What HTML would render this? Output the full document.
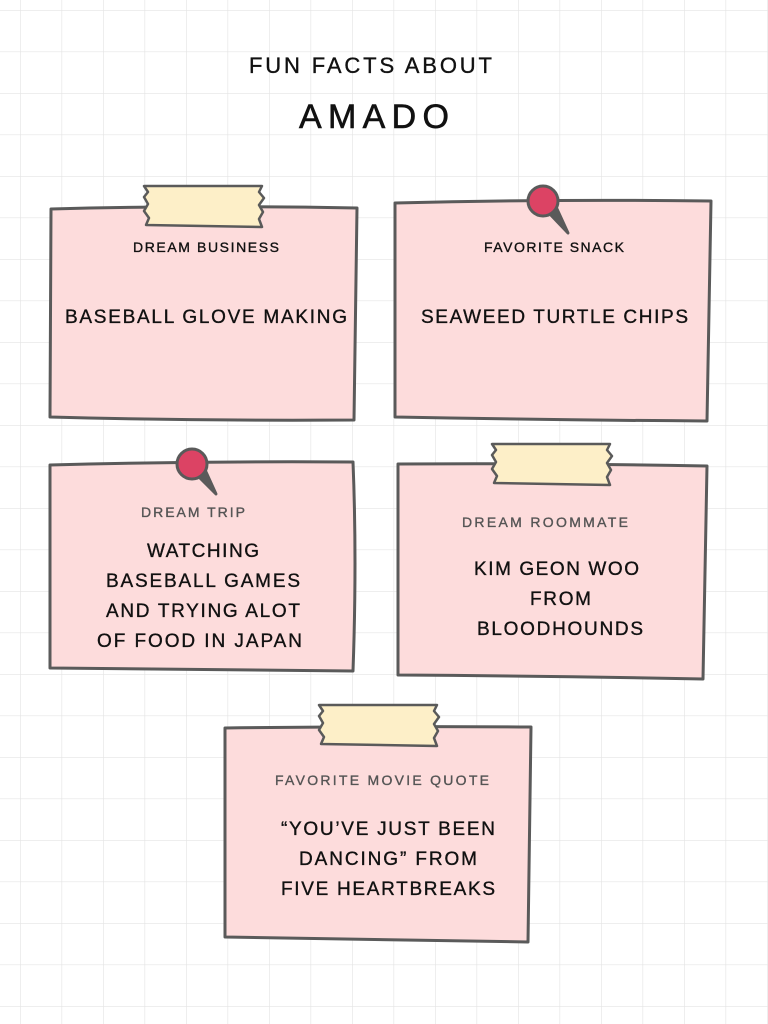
<!DOCTYPE html>
<html><head><meta charset="utf-8"><style>
html,body{margin:0;padding:0;background:#fff}
svg{display:block}
text{font-family:"Liberation Sans",sans-serif;fill:#111;stroke:#111;stroke-width:0.35}
.l{font-size:14px}
.b{font-size:19px}
.g{fill:#555;stroke:#555}
</style></head><body>
<svg width="768" height="1024" viewBox="0 0 768 1024" xmlns="http://www.w3.org/2000/svg">
<defs>
<pattern id="grid" x="20" y="10" width="41.5" height="41.5" patternUnits="userSpaceOnUse">
<path d="M0 0H41.5M0 0V41.5" stroke="#e4e4e4" stroke-width="1.3" fill="none"/>
</pattern>
</defs>
<rect width="768" height="1024" fill="url(#grid)"/>
<text x="249" y="73" textLength="243" style="font-size:22px">FUN FACTS ABOUT</text>
<text x="299" y="128" textLength="150" style="font-size:34px;stroke-width:0.6">AMADO</text>

<g fill="#fddcdc" stroke="#5a5a5a" stroke-width="3" stroke-linejoin="round">
<path d="M51 209 Q200 205 357 208 L354 420 Q200 421 50 417 Z"/>
<path d="M395 203 Q550 199 711 201 L707 421 Q550 420 395 417 Z"/>
<path d="M50 465 Q200 461 353 462 Q357 560 353 671 Q200 670 50 668 Z"/>
<path d="M398 464 Q550 463 707 466 L703 679 Q550 676 398 675 Z"/>
<path d="M225 728 Q380 726 531 727 L528 942 Q380 940 225 937 Z"/>
</g>
<g fill="#fdefc8" stroke="#5a5a5a" stroke-width="2.5" stroke-linejoin="round">
<path d="M144 186 L262 186 L259 192 L264 198 L259 205 L263 212 L259 219 L262 227 L146 225 L149 218 L144 211 L148 204 L144 197 L148 192 Z"/>
<path d="M492 444 L610 444 L607 450 L612 456 L607 463 L611 470 L607 477 L610 485 L494 483 L497 476 L492 469 L496 462 L492 455 L496 450 Z"/>
<path d="M319 705 L437 705 L434 711 L439 717 L434 724 L438 731 L434 738 L437 746 L321 744 L324 737 L319 730 L323 723 L319 716 L323 711 Z"/>
</g>
<g stroke="#5a5a5a" stroke-width="3" stroke-linejoin="round">
<path d="M548 212 L568 233 L557 209 Z" fill="#5a5a5a"/>
<circle cx="543" cy="201" r="15" fill="#dc4364"/>
<path d="M197 475 L216 494 L206 472 Z" fill="#5a5a5a"/>
<circle cx="192" cy="464" r="15" fill="#dc4364"/>
</g>

<text class="l" x="133" y="252" textLength="146">DREAM BUSINESS</text>
<text class="b" x="65" y="323" textLength="282">BASEBALL GLOVE MAKING</text>
<text class="l" x="484" y="252" textLength="140">FAVORITE SNACK</text>
<text class="b" x="421" y="323" textLength="267">SEAWEED TURTLE CHIPS</text>

<text class="l g" x="141" y="517" textLength="104">DREAM TRIP</text>
<text class="b" x="147" y="557" textLength="112">WATCHING</text>
<text class="b" x="106" y="587" textLength="194">BASEBALL GAMES</text>
<text class="b" x="106" y="617" textLength="194">AND TRYING ALOT</text>
<text class="b" x="97" y="647" textLength="205">OF FOOD IN JAPAN</text>

<text class="l g" x="462" y="527" textLength="166">DREAM ROOMMATE</text>
<text class="b" x="474" y="575" textLength="165">KIM GEON WOO</text>
<text class="b" x="530" y="605" textLength="61">FROM</text>
<text class="b" x="477" y="635" textLength="166">BLOODHOUNDS</text>

<text class="l g" x="275" y="785" textLength="214">FAVORITE MOVIE QUOTE</text>
<text class="b" x="281" y="835" textLength="214">“YOU’VE JUST BEEN</text>
<text class="b" x="299" y="865" textLength="178">DANCING” FROM</text>
<text class="b" x="281" y="895" textLength="214">FIVE HEARTBREAKS</text>
</svg>
</body></html>
